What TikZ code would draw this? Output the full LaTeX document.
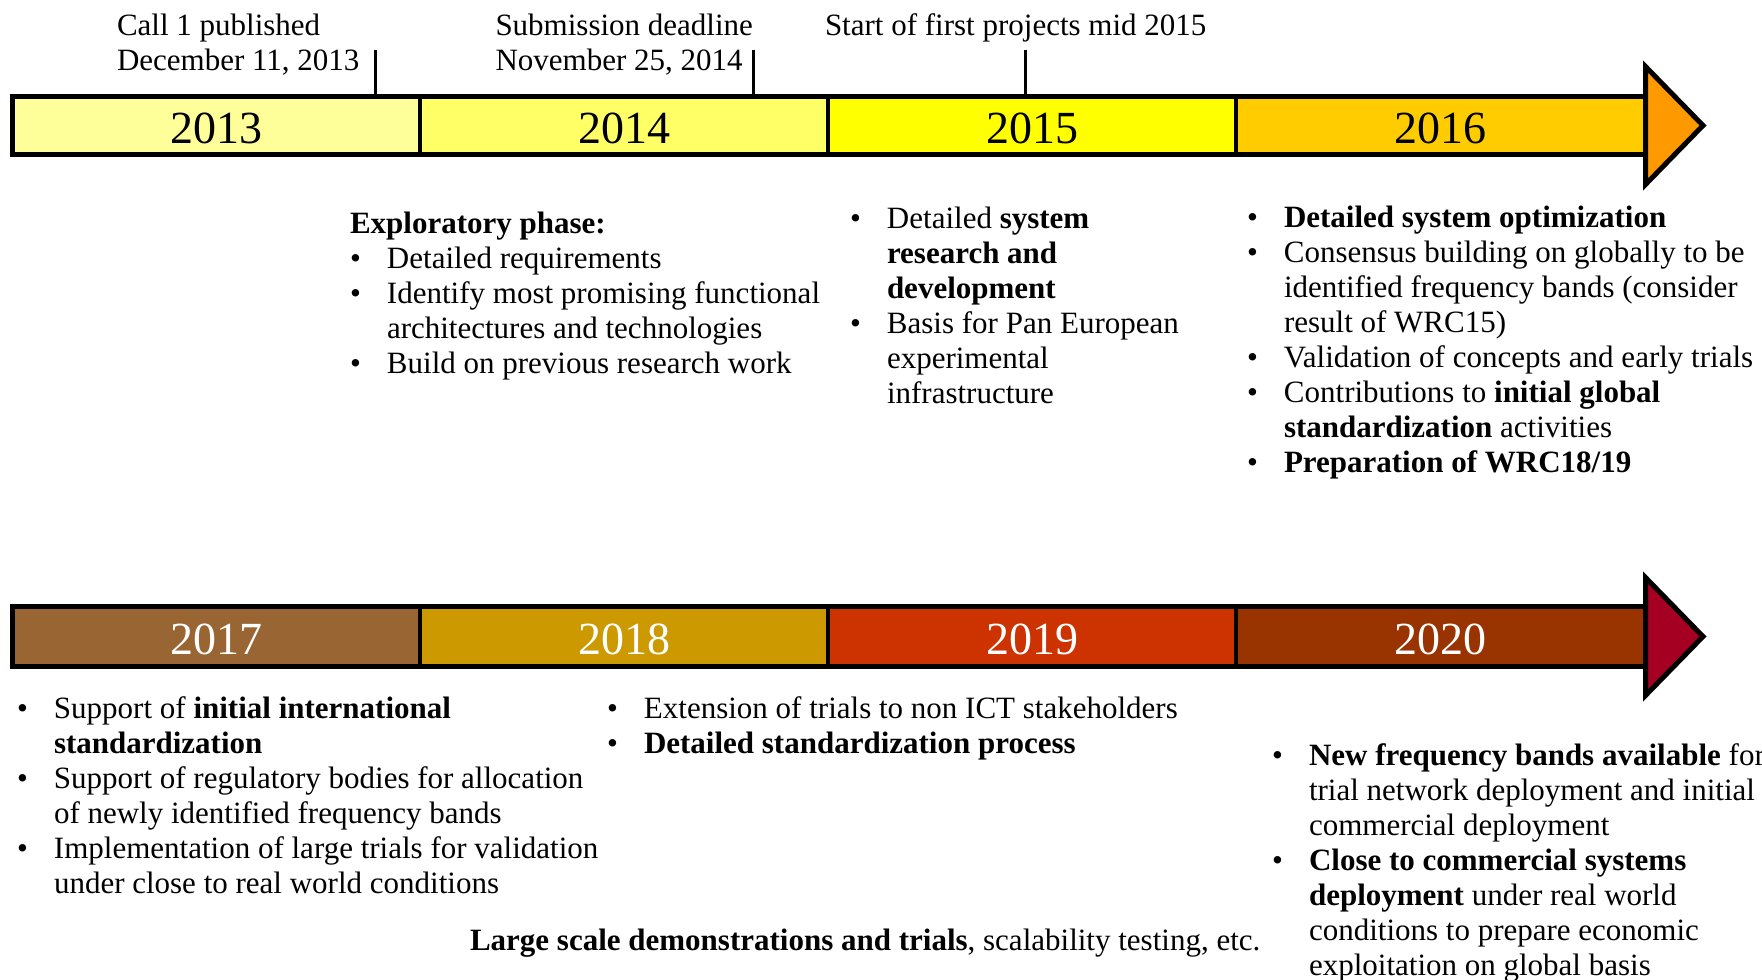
\documentclass[tikz,border=0pt]{standalone}
\usepackage{fontspec}
\setmainfont{Liberation Serif}
\definecolor{cA}{HTML}{FFFF99}
\definecolor{cB}{HTML}{FFFF66}
\definecolor{cC}{HTML}{FFFF00}
\definecolor{cD}{HTML}{FFCC00}
\definecolor{cE}{HTML}{FF9900}
\definecolor{cF}{HTML}{996633}
\definecolor{cG}{HTML}{CC9900}
\definecolor{cH}{HTML}{CC3300}
\definecolor{cI}{HTML}{993300}
\definecolor{cJ}{HTML}{A50021}
\newcommand{\bodyfont}{\fontsize{31}{35}\selectfont}
\newcommand{\yearfont}{\fontsize{46}{52}\selectfont}
\newcommand{\bitem}{\par\makebox[37pt][l]{\textbullet}}
\newcommand{\bcont}{\par\hspace*{37pt}}
\newcommand{\blk}[1]{\parbox[t]{900pt}{\bodyfont #1}}
\begin{document}
\begin{tikzpicture}[x=1pt,y=-1pt,
  seg/.style={draw=black, line width=4pt, inner sep=0pt, outer sep=0pt, font=\yearfont},
  topseg/.style={seg, minimum height=58pt},
  botseg/.style={seg, minimum height=60pt, text=white},
  yr/.style={anchor=center, inner sep=0pt, font=\yearfont},
  frame/.style={draw=black, line width=5pt},
  arrowtri/.style={draw=black, line width=5pt, line join=miter},
  txt/.style={anchor=base west, inner sep=0pt, outer sep=0pt},
  tick/.style={draw=black, line width=3pt}]
\useasboundingbox (0,0) rectangle (1762,980);

% ---- top timeline ----
\node[topseg, fill=cA, minimum width=407.5pt] (y2013) at (216.25,125.5) {};
\node[topseg, fill=cB, minimum width=408pt] (y2014) at (624,125.5) {};
\node[topseg, fill=cC, minimum width=408pt] (y2015) at (1032,125.5) {};
\node[topseg, fill=cD, minimum width=409.5pt] (y2016) at (1440.75,125.5) {};
\draw[frame] (y2013.north west) rectangle (y2016.south east);
\draw[arrowtri, fill=cE] (y2016.east) ++(0,-59) -- ++(57.5,59) -- ++(-57.5,59) -- cycle;
\node[yr] (l2013) at ([yshift=-3pt]y2013.center) {2013};
\node[yr] (l2014) at ([yshift=-3pt]y2014.center) {2014};
\node[yr] (l2015) at ([yshift=-3pt]y2015.center) {2015};
\node[yr] (l2016) at ([yshift=-3pt]y2016.center) {2016};

% ---- bottom timeline ----
\node[botseg, fill=cF, minimum width=407.5pt] (y2017) at (216.25,636.5) {};
\node[botseg, fill=cG, minimum width=408pt] (y2018) at (624,636.5) {};
\node[botseg, fill=cH, minimum width=408pt] (y2019) at (1032,636.5) {};
\node[botseg, fill=cI, minimum width=409.5pt] (y2020) at (1440.75,636.5) {};
\draw[frame] (y2017.north west) rectangle (y2020.south east);
\draw[arrowtri, fill=cJ] (y2020.east) ++(0,-59) -- ++(57.5,59) -- ++(-57.5,59) -- cycle;
\node[yr, text=white] (l2017) at ([yshift=-3pt]y2017.center) {2017};
\node[yr, text=white] (l2018) at ([yshift=-3pt]y2018.center) {2018};
\node[yr, text=white] (l2019) at ([yshift=-3pt]y2019.center) {2019};
\node[yr, text=white] (l2020) at ([yshift=-3pt]y2020.center) {2020};

% ---- milestones ----
\coordinate (t1) at (375,50);
\coordinate (t2) at (753,50);
\coordinate (t3) at (1025,50);
\draw[tick] (t1) -- (t1 |- y2013.north);
\draw[tick] (t2) -- (t2 |- y2014.north);
\draw[tick] (t3) -- (t3 |- y2015.north);

\node[txt] (call) at (117,35) {\blk{Call 1 published\par December 11, 2013}};
\node[txt] (subm) at (495.5,35) {\blk{Submission deadline\par November 25, 2014}};
\node[txt] (start) at (825,35) {\blk{Start of first projects mid 2015}};

% ---- upper text blocks ----
\node[txt] (explo) at (350,233.5) {\blk{\textbf{Exploratory phase:}
\bitem Detailed requirements
\bitem Identify most promising functional
\bcont architectures and technologies
\bitem Build on previous research work}};

\node[txt] (b2015) at (850,228.5) {\blk{\bitem Detailed \textbf{system}
\bcont \textbf{research and}
\bcont \textbf{development}
\bitem Basis for Pan European
\bcont experimental
\bcont infrastructure}};

\node[txt] (b2016) at (1247,227) {\blk{\bitem \textbf{Detailed system optimization}
\bitem Consensus building on globally to be
\bcont identified frequency bands (consider
\bcont result of WRC15)
\bitem Validation of concepts and early trials
\bitem Contributions to \textbf{initial global}
\bcont \textbf{standardization} activities
\bitem \textbf{Preparation of WRC18/19}}};

% ---- lower text blocks ----
\node[txt] (b2017) at (17,718.5) {\blk{\bitem Support of \textbf{initial international}
\bcont \textbf{standardization}
\bitem Support of regulatory bodies for allocation
\bcont of newly identified frequency bands
\bitem Implementation of large trials for validation
\bcont under close to real world conditions}};

\node[txt] (b2018) at (607,718.5) {\blk{\bitem Extension of trials to non ICT stakeholders
\bitem \textbf{Detailed standardization process}}};

\node[txt] (b2020) at (1272,765) {\blk{\bitem \textbf{New frequency bands available} for
\bcont trial network deployment and initial
\bcont commercial deployment
\bitem \textbf{Close to commercial systems}
\bcont \textbf{deployment} under real world
\bcont conditions to prepare economic
\bcont exploitation on global basis}};

\node[txt] (large) at (470,950) {\blk{\textbf{Large scale demonstrations and trials}, scalability testing, etc.}};
\end{tikzpicture}
\end{document}
